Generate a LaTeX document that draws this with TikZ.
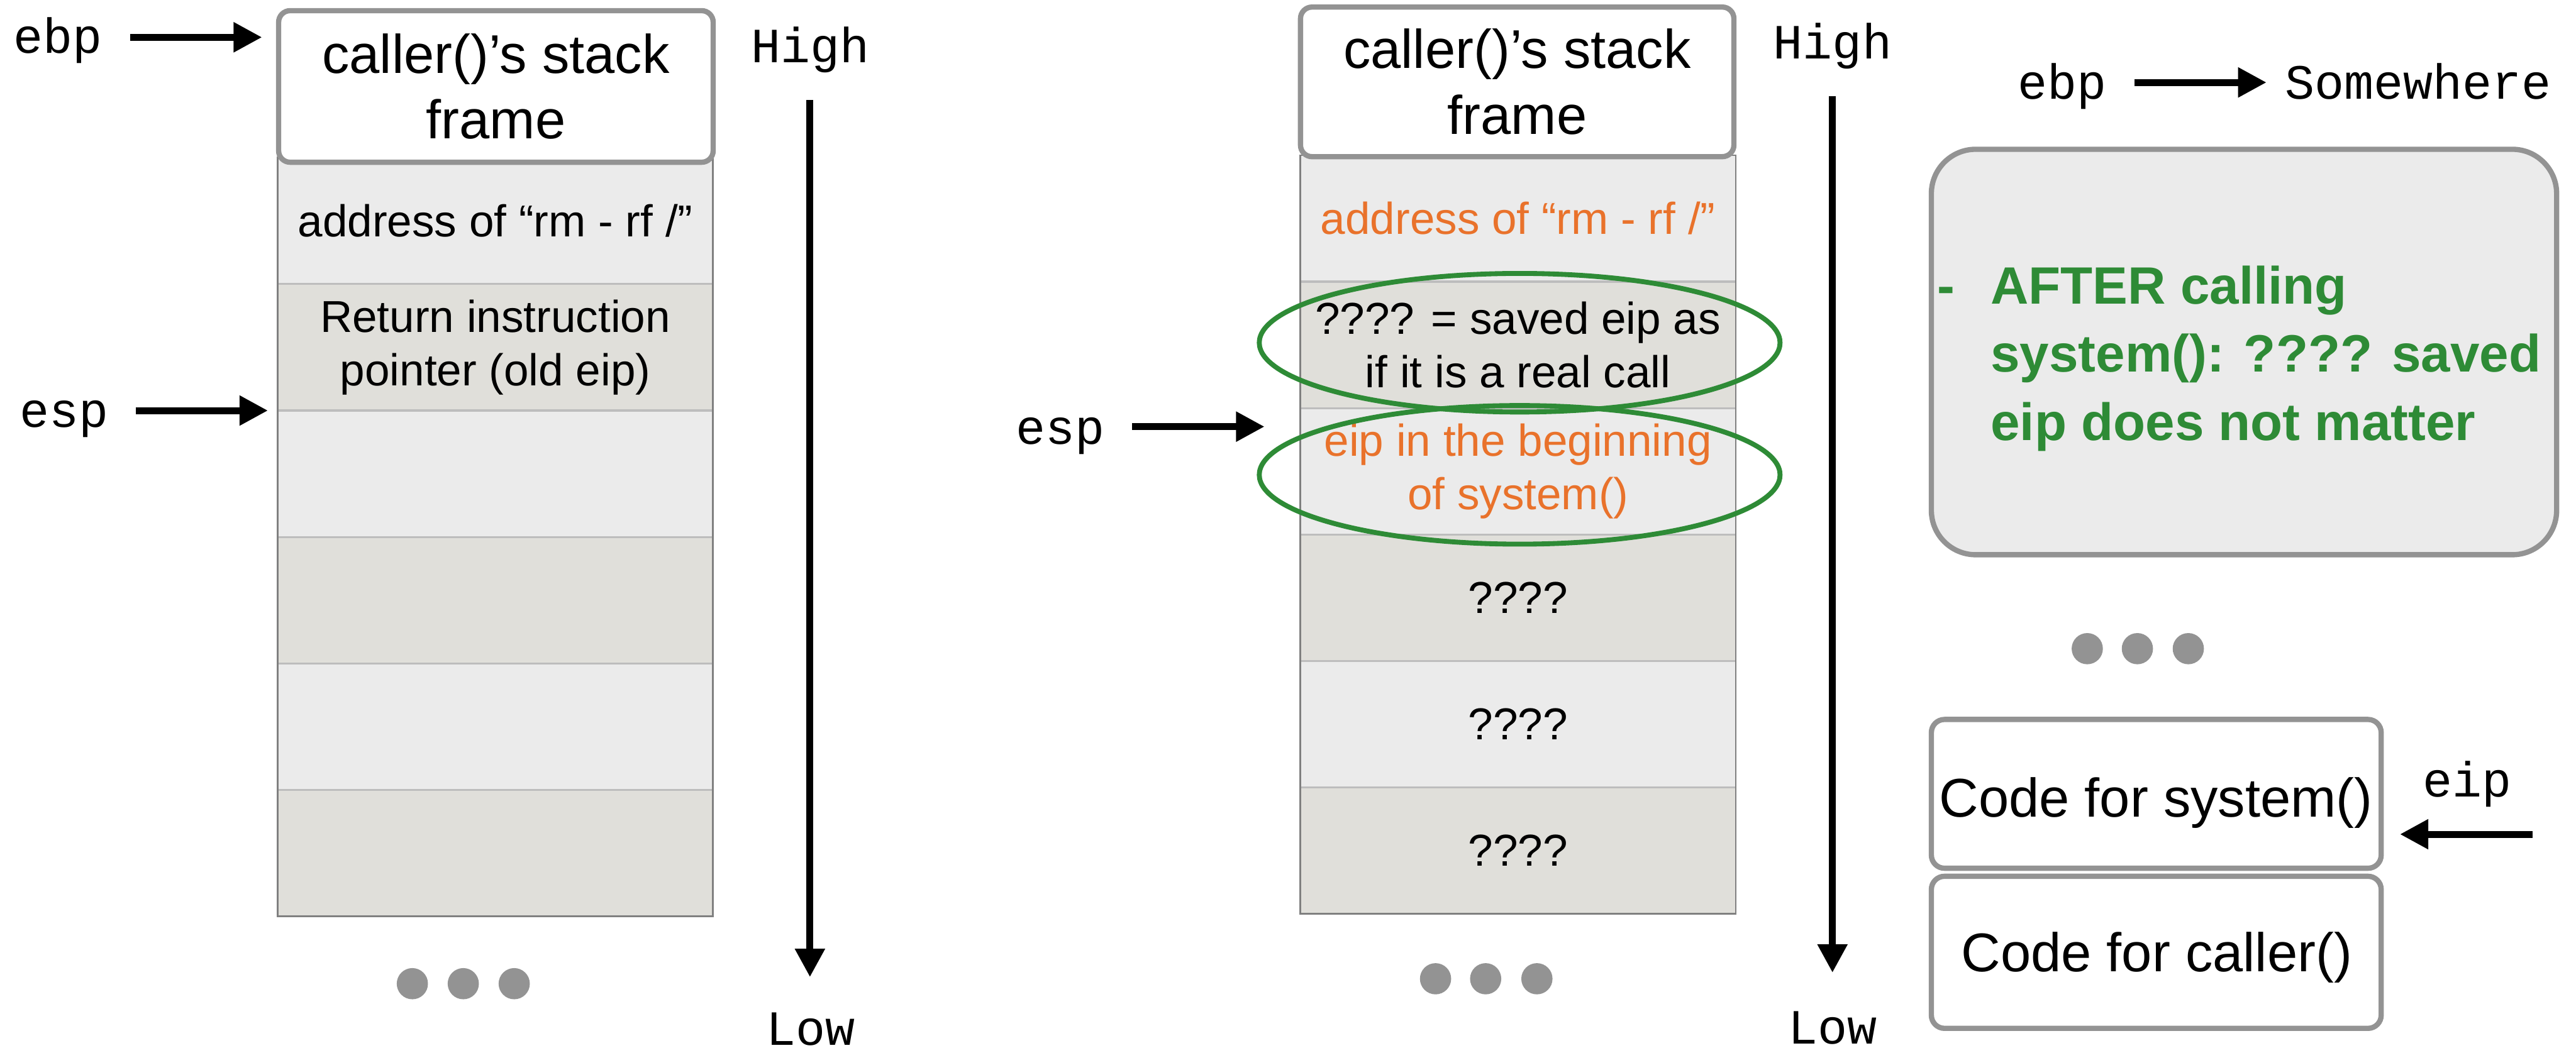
\documentclass[tikz,border=0pt]{standalone}
\usepackage{fontspec}
\setmainfont{Liberation Sans}
\setmonofont{Liberation Mono}
\usetikzlibrary{arrows.meta,shapes.geometric}

\definecolor{framegray}{RGB}{147,147,147}
\definecolor{rowlight}{RGB}{235,235,235}
\definecolor{rowdark}{RGB}{224,223,218}
\definecolor{rowsep}{RGB}{189,189,189}
\definecolor{coledge}{RGB}{128,128,128}
\definecolor{hlgreen}{RGB}{46,139,54}
\definecolor{payload}{RGB}{233,114,43}

\tikzset{
  framebox/.style={draw=framegray, line width=1.6pt, rounded corners=3.5pt, fill=white,
    inner sep=0pt, outer sep=0pt, align=center, font=\fontsize{16.6}{20}\selectfont},
  boxtxt/.style={inner sep=0pt, font=\fontsize{16.6}{20}\selectfont},
  cell/.style={rectangle, minimum width=132.5pt, minimum height=38.5pt, inner sep=0pt,
    outer sep=0pt, align=center, font=\fontsize{13.6}{16.2}\selectfont},
  cellA/.style={cell, fill=rowlight},
  cellB/.style={cell, fill=rowdark},
  reg/.style={font=\ttfamily\fontsize{15}{18}\selectfont, inner sep=0pt, anchor=base},
  ptr/.style={line width=2.1pt, -{Triangle[length=8.65pt,width=8.65pt]}},
  gdot/.style={circle, fill=framegray, minimum size=9.5pt, inner sep=0pt},
  ring/.style={ellipse, draw=hlgreen, line width=1.5pt, minimum width=158.5pt,
    minimum height=42.2pt, inner sep=0pt},
  sepline/.style={draw=rowsep, line width=0.6pt},
  coledgeline/.style={draw=coledge, line width=0.5pt},
}

\begin{document}
\begin{tikzpicture}[x=0.5pt, y=-0.5pt]
\useasboundingbox (0,0) rectangle (1568,641);

% ---------- left stack ----------
\node[cellA] (L1) at (301.5,134.5) {address of “rm - rf /”};
\node[cellB] (L2) at (301.5,211.5) {Return instruction\\pointer (old eip)};
\node[cellA] (L3) at (301.5,288.5) {};
\node[cellB] (L4) at (301.5,365.5) {};
\node[cellA] (L5) at (301.5,442.5) {};
\node[cellB] (L6) at (301.5,519.5) {};
\foreach \i in {2,...,6} \draw[sepline] (L\i.north west) -- (L\i.north east);
\draw[coledgeline] (L1.north west) rectangle (L6.south east);
\node[framebox, minimum width=132.25pt, minimum height=46.15pt] (LF) at (301.85,52.65)
  {caller()’s stack\\frame};

% ---------- middle stack ----------
\node[cellA, text=payload] (M1) at (924,133) {address of “rm - rf /”};
\node[cellB] (M2) at (924,210) {???? = saved eip as\\if it is a real call};
\node[cellA, text=payload] (M3) at (924,287) {eip in the beginning\\of system()};
\node[cellB] (M4) at (924,364) {????};
\node[cellA] (M5) at (924,441) {????};
\node[cellB] (M6) at (924,518) {????};
\foreach \i in {2,...,6} \draw[sepline] (M\i.north west) -- (M\i.north east);
\draw[coledgeline] (M1.north west) rectangle (M6.south east);
\node[framebox, minimum width=131.9pt, minimum height=45.55pt] (MF) at (923.5,49.85)
  {caller()’s stack\\frame};
\node[ring] (R1) at (925,208.7) {};
\node[ring] (R2) at (925,289.15) {};

% ---------- register and direction labels ----------
\node[reg] (ebpL) at (35.3,32.5) {ebp};
\node[reg] (espL) at (39,260.3) {esp};
\node[reg] (espM) at (645.4,270.6) {esp};
\node[reg] (ebpR) at (1255.3,60.3) {ebp};
\node[reg] (where) at (1472,60.3) {Somewhere};
\node[reg] (eipR) at (1501.7,485.4) {eip};
\node[reg] (hiL) at (493.3,38.2) {High};
\node[reg] (loL) at (493.5,636.5) {Low};
\node[reg] (hiM) at (1115.5,35.7) {High};
\node[reg] (loM) at (1115.5,635.5) {Low};

% ---------- pointer arrows ----------
\coordinate (ebpLtip) at (159.5,22.7);
\draw[ptr, shorten <=8.2pt] (ebpL.east |- ebpLtip) -- (ebpLtip);
\draw[ptr, shorten <=8.1pt, shorten >=2.95pt] (espL.east |- L3.north west) -- (L3.north west);
\coordinate (espMtip) at (769.7,259.8);
\draw[ptr, shorten <=8.2pt] (espM.east |- espMtip) -- (espMtip);
\coordinate (ebpRtip) at (1379.6,50.2);
\draw[ptr, shorten <=8.2pt] (ebpR.east |- ebpRtip) -- (ebpRtip);
\coordinate (eiptail) at (1541.6,508);
\coordinate (eiptip) at (1460.8,508);
\draw[ptr] (eiptail) -- (eiptip);

% ---------- growth direction axes ----------
\coordinate (axLtop) at (493,60.8);
\coordinate (axLend) at (493,595);
\draw[ptr] (axLtop) -- (axLend);
\coordinate (axMtop) at (1115.4,58.5);
\coordinate (axMend) at (1115.4,592.3);
\draw[ptr] (axMtop) -- (axMend);

% ---------- ellipsis dots ----------
\foreach \x [count=\i] in {251,282,313} \node[gdot] (dl\i) at (\x,599) {};
\foreach \x [count=\i] in {873.8,904.3,935.5} \node[gdot] (dm\i) at (\x,596) {};
\foreach \x [count=\i] in {1270.5,1301,1332} \node[gdot] (dr\i) at (\x,395) {};

% ---------- note ----------
\node[draw=framegray, fill=rowlight, line width=1.6pt, rounded corners=13.5pt,
  minimum width=190.3pt, minimum height=123.45pt, inner sep=0pt, outer sep=0pt]
  (note) at (1365.9,214.35) {};
\node[anchor=base west, inner sep=0pt, text=hlgreen,
  font=\bfseries\fontsize{16}{20.75}\selectfont] (notetxt) at (1178.7,185)
  {\begin{tabular}[t]{@{}l@{\hspace{11pt}}l@{}}-&AFTER calling\\&system(): ???? saved\\&eip does not matter\end{tabular}};

% ---------- code segments ----------
\node[framebox, rounded corners=4pt, minimum width=136.9pt, minimum height=45.3pt]
  (sysbox) at (1312.5,483.4) {};
\node[framebox, rounded corners=4pt, minimum width=136.9pt, minimum height=46.3pt]
  (callbox) at (1312.5,579.9) {};
\node[boxtxt, anchor=base] (systxt) at (1312.3,497.4) {Code for system()};
\node[boxtxt, anchor=base] (calltxt) at (1312.8,591.6) {Code for caller()};
\end{tikzpicture}
\end{document}
